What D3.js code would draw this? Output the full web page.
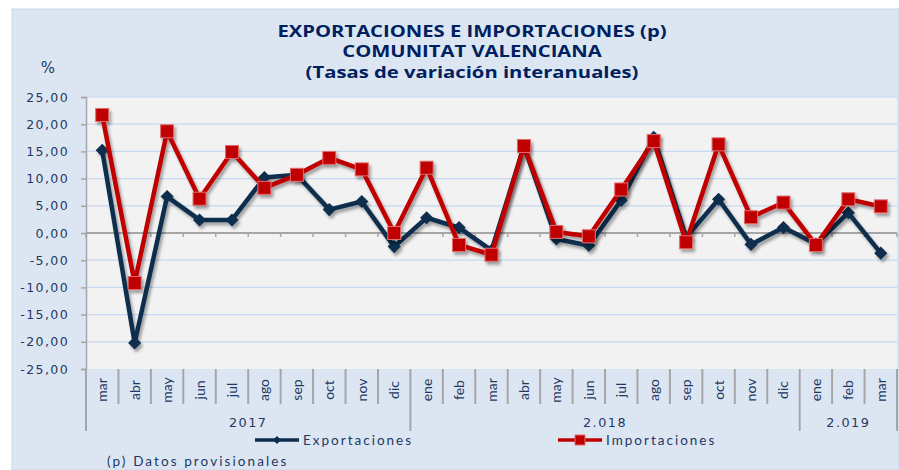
<!DOCTYPE html>
<html>
<head>
<meta charset="utf-8">
<script src="https://cdn.jsdelivr.net/npm/d3@7"></script>
<style>
  body { margin: 0; background: #fff; }
  svg { display: block; }
</style>
</head>
<body>
<div id="plot"></div>
<script>
// datos
const months = ["mar","abr","may","jun","jul","ago","sep","oct","nov","dic",
  "ene","feb","mar","abr","may","jun","jul","ago","sep","oct","nov","dic",
  "ene","feb","mar"];
const yearLabels = ["2017", "2.018", "2.019"];
const yearCounts = [10, 12, 3];
const exportaciones = [15.2, -20.2, 6.7, 2.4, 2.4, 10.2, 10.7, 4.3, 5.8, -2.5,
  2.8, 1.0, -3.2, 16.0, -1.1, -2.3, 6.0, 17.6, -0.8, 6.2, -2.1, 1.0,
  -2.0, 3.7, -3.7];
const importaciones = [21.7, -9.2, 18.7, 6.3, 14.9, 8.3, 10.7, 13.8, 11.7, 0.0,
  12.0, -2.2, -4.0, 16.0, 0.2, -0.6, 8.0, 16.9, -1.7, 16.3, 2.9, 5.6,
  -2.2, 6.2, 4.9];
const yTicks = [25, 20, 15, 10, 5, 0, -5, -10, -15, -20, -25];

const w = 899;
const h = 470;
const margin = {top: 97, right: 2, bottom: 101, left: 86};
const navy = "#0f2d4d";
const red = "#c00000";
const txt = "#1f3864";

const svg = d3.select("div#plot")
  .append("svg")
  .attr("width", w)
  .attr("height", h);

const defs = svg.append("defs");
const f = defs.append("filter").attr("id", "sh")
  .attr("x", "-20%").attr("y", "-20%").attr("width", "140%").attr("height", "140%");
f.append("feDropShadow").attr("dx", 2).attr("dy", 3).attr("stdDeviation", 1.6)
  .attr("flood-color", "#000").attr("flood-opacity", 0.35);

// panel
svg.append("rect")
  .attr("x", 12).attr("y", 9).attr("width", w - 12).attr("height", h - 9)
  .attr("fill", "#dce6f2").attr("stroke", "#c9d6e6");

const x = d3.scaleBand()
  .domain(d3.range(months.length))
  .range([margin.left, w - margin.right]);

const y = d3.scaleLinear()
  .domain([-25, 25])
  .range([h - margin.bottom, margin.top]);

// plot area
svg.append("rect")
  .attr("x", margin.left).attr("y", margin.top)
  .attr("width", w - margin.right - margin.left)
  .attr("height", y(-25) - y(25))
  .attr("fill", "#f2f2f2");

// grid
svg.append("g")
  .selectAll("line")
  .data(yTicks.filter(d => d !== 0 && d !== -25))
  .join("line")
  .attr("x1", margin.left).attr("x2", w - margin.right)
  .attr("y1", d => y(d)).attr("y2", d => y(d))
  .attr("stroke", "#c5d9f1").attr("stroke-width", 1.2);

// eje y
const yAxis = svg.append("g")
  .attr("transform", `translate(${margin.left},0)`)
  .call(d3.axisLeft(y).tickValues(yTicks).tickSize(5).tickPadding(12)
    .tickFormat(d => d3.format(".2f")(d).replace(".", ",").replace("−", "-")));
yAxis.select(".domain").attr("stroke", "#a6a6a6").attr("stroke-width", 1.5);
yAxis.selectAll(".tick line").attr("stroke", "#a6a6a6").attr("stroke-width", 1.5);
yAxis.selectAll("text")
  .attr("fill", txt)
  .style("font-family", "'DejaVu Sans', sans-serif")
  .style("font-size", "12.5px")
  .style("letter-spacing", "1.4px");

// linea del cero
svg.append("line")
  .attr("x1", margin.left).attr("x2", w - margin.right)
  .attr("y1", y(0)).attr("y2", y(0))
  .attr("stroke", "#a6a6a6").attr("stroke-width", 2);
svg.append("g")
  .selectAll("line")
  .data(d3.range(months.length + 1))
  .join("line")
  .attr("x1", i => margin.left + i * x.bandwidth())
  .attr("x2", i => margin.left + i * x.bandwidth())
  .attr("y1", y(0)).attr("y2", y(0) + 4)
  .attr("stroke", "#a6a6a6").attr("stroke-width", 1.5);

// etiquetas de categoria
const base = y(-25);
svg.append("g")
  .selectAll("line")
  .data(d3.range(months.length + 1))
  .join("line")
  .attr("x1", i => margin.left + i * x.bandwidth())
  .attr("x2", i => margin.left + i * x.bandwidth())
  .attr("y1", base).attr("y2", base + 35)
  .attr("stroke", "#a6a6a6").attr("stroke-width", 2);

svg.append("g")
  .selectAll("text")
  .data(months)
  .join("text")
  .attr("transform", (d, i) => `translate(${x(i) + x.bandwidth() / 2 + 5},${base + 21}) rotate(-90)`)
  .attr("text-anchor", "middle")
  .attr("fill", txt)
  .style("font-family", "Lato, sans-serif")
  .style("font-size", "14px")
  .text(d => d);

// años
const starts = yearCounts.map((c, i) => d3.sum(yearCounts.slice(0, i)));
svg.append("g")
  .selectAll("line")
  .data(starts.concat([months.length]))
  .join("line")
  .attr("x1", i => margin.left + i * x.bandwidth())
  .attr("x2", i => margin.left + i * x.bandwidth())
  .attr("y1", base + 35).attr("y2", base + 62)
  .attr("stroke", "#a6a6a6").attr("stroke-width", 2);

svg.append("g")
  .selectAll("text")
  .data(yearLabels)
  .join("text")
  .attr("x", (d, i) => margin.left + (starts[i] + yearCounts[i] / 2) * x.bandwidth())
  .attr("y", base + 58)
  .attr("text-anchor", "middle")
  .attr("fill", txt)
  .style("font-family", "'DejaVu Sans', sans-serif")
  .style("font-size", "12.8px")
  .style("letter-spacing", "1.5px")
  .text(d => d);

// series
const cx = i => x(i) + x.bandwidth() / 2;
const line = d3.line().x((d, i) => cx(i)).y(d => y(d));

const gExp = svg.append("g").attr("filter", "url(#sh)");
gExp.append("path")
  .attr("d", line(exportaciones))
  .attr("fill", "none").attr("stroke", navy).attr("stroke-width", 4.5)
  .attr("stroke-linejoin", "round");
gExp.selectAll("path.m")
  .data(exportaciones)
  .join("path")
  .attr("class", "m")
  .attr("transform", (d, i) => `translate(${cx(i)},${y(d)})`)
  .attr("d", d3.symbol(d3.symbolDiamond2, 110))
  .attr("fill", navy);

const gImp = svg.append("g").attr("filter", "url(#sh)");
gImp.append("path")
  .attr("d", line(importaciones))
  .attr("fill", "none").attr("stroke", red).attr("stroke-width", 4.5)
  .attr("stroke-linejoin", "round");
gImp.selectAll("rect")
  .data(importaciones)
  .join("rect")
  .attr("x", (d, i) => cx(i) - 6.5).attr("y", d => y(d) - 6.5)
  .attr("width", 13).attr("height", 13)
  .attr("fill", red).attr("stroke", "#e06c6c").attr("stroke-width", 1);

// titulo (ensanchado en horizontal como en la imagen)
const titleLines = ["EXPORTACIONES E IMPORTACIONES (p)", "COMUNITAT VALENCIANA",
  "(Tasas de variación interanuales)"];
svg.append("g")
  .attr("transform", "translate(472,0) scale(1.265,1)")
  .selectAll("text")
  .data(titleLines)
  .join("text")
  .attr("x", 0)
  .attr("y", (d, i) => 37 + i * 20.5)
  .attr("text-anchor", "middle")
  .attr("fill", "#002060")
  .style("font-family", "'Open Sans', sans-serif")
  .style("font-weight", "bold")
  .style("font-size", "16px")
  .text(d => d);

svg.append("text")
  .attr("x", 48).attr("y", 73)
  .attr("text-anchor", "middle")
  .attr("fill", txt)
  .style("font-family", "'DejaVu Sans', sans-serif")
  .style("font-size", "15px")
  .text("%");

// leyenda
const legend = [
  {name: "Exportaciones", color: navy, x0: 255, shape: "d"},
  {name: "Importaciones", color: red, x0: 558, shape: "s"}
];
const lg = svg.append("g").selectAll("g").data(legend).join("g")
  .attr("transform", d => `translate(${d.x0},440)`);
lg.append("line").attr("x1", 0).attr("x2", 44)
  .attr("stroke", d => d.color).attr("stroke-width", 3.5);
lg.filter(d => d.shape === "d").append("path")
  .attr("transform", "translate(22,0)")
  .attr("d", d3.symbol(d3.symbolDiamond2, 40))
  .attr("fill", navy);
lg.filter(d => d.shape === "s").append("rect")
  .attr("x", 17).attr("y", -5).attr("width", 10).attr("height", 10)
  .attr("fill", red).attr("stroke", "#e06c6c");
lg.append("text")
  .attr("x", 48).attr("y", 5)
  .attr("fill", txt)
  .style("font-family", "Lato, sans-serif")
  .style("font-size", "13.5px")
  .style("letter-spacing", "2px")
  .text(d => d.name);

svg.append("text")
  .attr("x", 107).attr("y", 466)
  .attr("fill", txt)
  .style("font-family", "Lato, sans-serif")
  .style("font-size", "13.5px")
  .style("letter-spacing", "2.1px")
  .text("(p) Datos provisionales");
</script>
</body>
</html>
